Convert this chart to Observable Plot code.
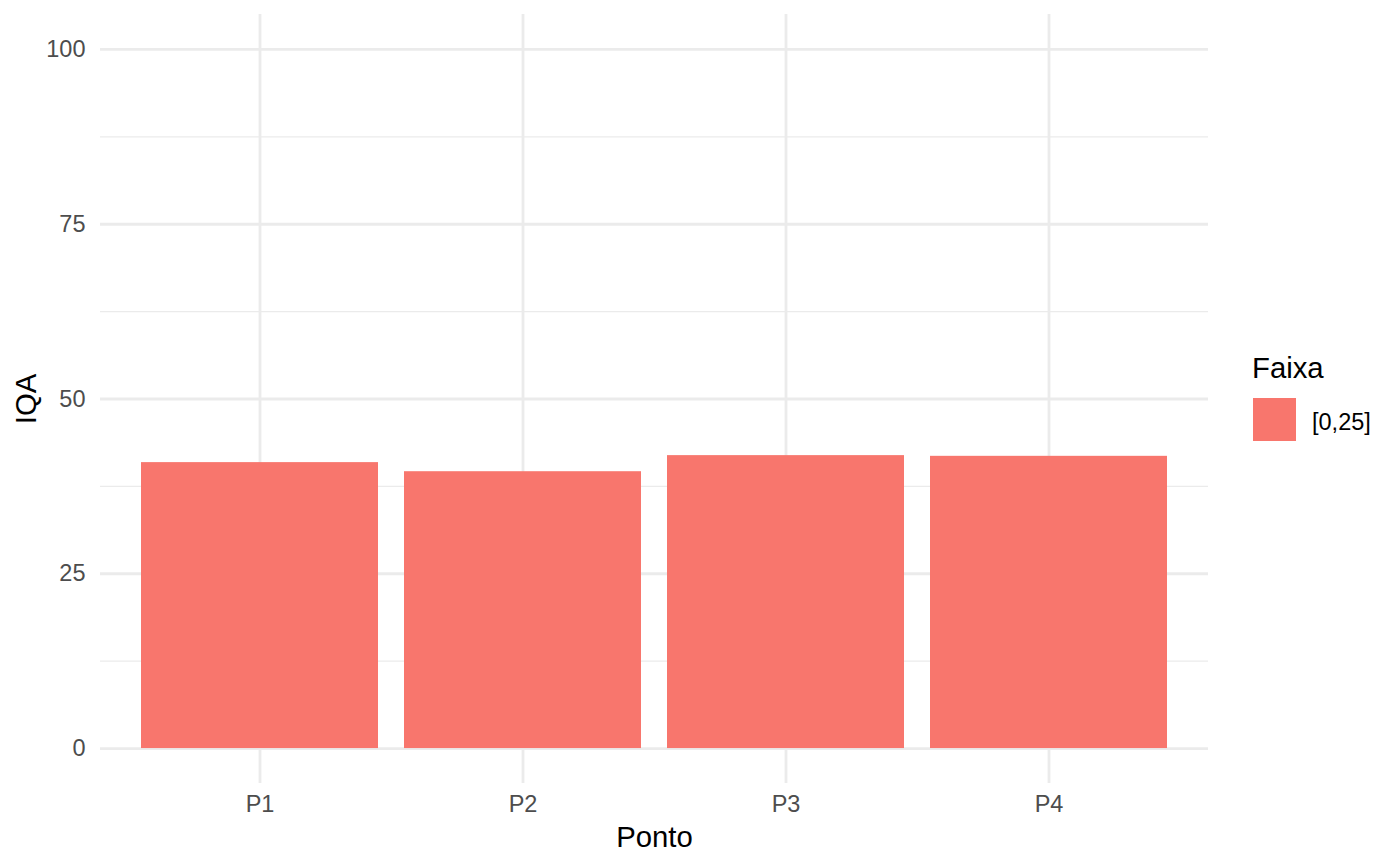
<!DOCTYPE html>
<html><head><meta charset="utf-8">
<script src="https://cdn.jsdelivr.net/npm/d3@7"></script>
<script src="https://cdn.jsdelivr.net/npm/@observablehq/plot@0.6"></script>
<style>
body{margin:0;background:#fff;font-family:"Liberation Sans",Arial,sans-serif;}
#wrap{position:relative;width:1400px;height:866px;}
#legend-title{position:absolute;left:1252px;top:353px;font-size:29.3px;line-height:1;color:#000;}
#legend-key{position:absolute;left:1253px;top:398px;width:43px;height:43px;}
#legend-label{position:absolute;left:1312px;top:411px;font-size:23.5px;line-height:1;color:#000;}
</style></head><body><div id="wrap"></div>
<script>
const pontos = ["P1", "P2", "P3", "P4"];
const iqa = [40.9, 39.6, 41.9, 41.8];
const faixas = ["[0,25]", "[0,25]", "[0,25]", "[0,25]"];
const faixaDomain = ["[0,25]"];
const faixaColors = ["#F8766D"];
const legendTitle = "Faixa";
const yTicks = [0, 25, 50, 75, 100];
const yMinor = [12.5, 37.5, 62.5, 87.5];
const xTitle = "Ponto";
const yTitle = "IQA";

const data = pontos.map((p, i) => ({ponto: p, iqa: iqa[i], faixa: faixas[i]}));
const font = "Liberation Sans, Arial, sans-serif";

const chart = Plot.plot({
  width: 1400, height: 866,
  marginLeft: 100, marginRight: 192, marginTop: 14, marginBottom: 83,
  style: {fontFamily: font, background: "white"},
  x: {domain: pontos, paddingInner: 0.1, paddingOuter: 0.15},
  y: {domain: [-5, 105]},
  color: {domain: faixaDomain, range: faixaColors},
  marks: [
    Plot.gridY(yMinor, {stroke: "#EBEBEB", strokeOpacity: 1, strokeWidth: 1.4}),
    Plot.gridY(yTicks, {stroke: "#EBEBEB", strokeOpacity: 1, strokeWidth: 2.8}),
    Plot.gridX(pontos, {stroke: "#EBEBEB", strokeOpacity: 1, strokeWidth: 2.8}),
    Plot.barY(data, {x: "ponto", y: "iqa", fill: "faixa"}),
    Plot.axisY(yTicks, {tickSize: 0, tickPadding: 15, fontSize: 23.5, fill: "#4D4D4D", label: null}),
    Plot.axisY([], {tickSize: 0, fontSize: 29.3, fill: "#000", label: yTitle, labelAnchor: "center", labelArrow: "none", labelOffset: 85}),
    Plot.axisX(pontos, {tickSize: 0, tickPadding: 12, fontSize: 23.5, fill: "#4D4D4D", label: null}),
    Plot.axisX([], {tickSize: 0, fontSize: 29.3, fill: "#000", label: xTitle, labelAnchor: "center", labelArrow: "none", labelOffset: 63})
  ]
});
const wrap = document.getElementById("wrap");
wrap.appendChild(chart);

const t = document.createElement("div");
t.id = "legend-title"; t.textContent = legendTitle; wrap.appendChild(t);
faixaDomain.forEach((f, i) => {
  const k = document.createElement("div");
  k.id = "legend-key"; k.style.background = faixaColors[i]; wrap.appendChild(k);
  const l = document.createElement("div");
  l.id = "legend-label"; l.textContent = f; wrap.appendChild(l);
});
</script>
</body></html>
